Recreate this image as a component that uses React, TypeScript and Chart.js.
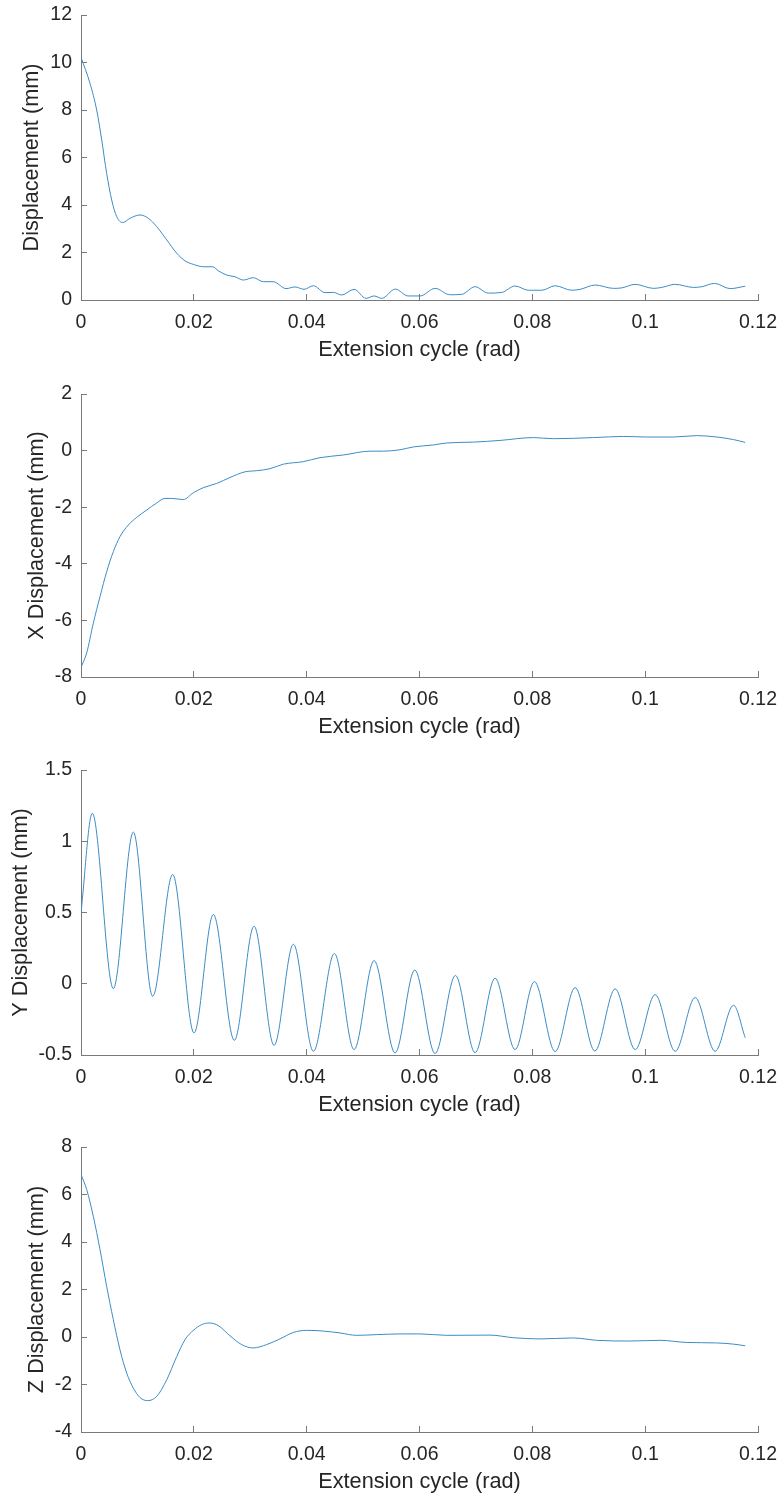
import React, { useEffect, useRef } from "react";
import { Chart, registerables } from "chart.js";

Chart.register(...registerables);

// ---------- data ----------
const xTicks = [0, 0.02, 0.04, 0.06, 0.08, 0.1, 0.12];
const xTickLabels = ["0", "0.02", "0.04", "0.06", "0.08", "0.1", "0.12"];
const xAxisLabel = "Extension cycle (rad)";

// Displacement magnitude
const magX = [0, 0.0016, 0.00278, 0.00367, 0.00455, 0.00544, 0.00633, 0.00739, 0.00869, 0.01046, 0.01194, 0.01342, 0.0152, 0.01697, 0.01844, 0.01991, 0.02168, 0.02334, 0.02434, 0.02582, 0.0273, 0.02877, 0.03054, 0.03232, 0.03409, 0.03634, 0.03794, 0.03953, 0.04119, 0.04326, 0.04474, 0.04622, 0.0484, 0.05053, 0.05195, 0.05331, 0.0557, 0.058, 0.0601, 0.06276, 0.06542, 0.0675, 0.06985, 0.07221, 0.07459, 0.07694, 0.07931, 0.08168, 0.08404, 0.087, 0.08847, 0.09113, 0.09438, 0.09586, 0.09823, 0.10147, 0.10294, 0.10532, 0.10857, 0.11005, 0.11228, 0.11506, 0.11773];
const magY = [10.22, 9.12, 8.0, 6.74, 5.33, 4.21, 3.51, 3.26, 3.44, 3.58, 3.44, 3.09, 2.53, 1.97, 1.65, 1.5, 1.4, 1.4, 1.23, 1.05, 0.98, 0.84, 0.94, 0.77, 0.77, 0.48, 0.55, 0.45, 0.6, 0.31, 0.32, 0.21, 0.45, 0.07, 0.17, 0.07, 0.46, 0.17, 0.17, 0.49, 0.22, 0.24, 0.56, 0.29, 0.32, 0.59, 0.41, 0.41, 0.6, 0.41, 0.45, 0.63, 0.49, 0.51, 0.66, 0.49, 0.53, 0.66, 0.53, 0.56, 0.7, 0.48, 0.58];
const magTicks = [0, 2, 4, 6, 8, 10, 12];
const magTickLabels = ["0", "2", "4", "6", "8", "10", "12"];

// X displacement
const xdX = [0, 0.00101, 0.00218, 0.00337, 0.00455, 0.00573, 0.00691, 0.00839, 0.00987, 0.01165, 0.01342, 0.01489, 0.01607, 0.01814, 0.01991, 0.02168, 0.02405, 0.02641, 0.02907, 0.03114, 0.03351, 0.03586, 0.03941, 0.04237, 0.0465, 0.05124, 0.0536, 0.05655, 0.05892, 0.06247, 0.06483, 0.06956, 0.07428, 0.08019, 0.08373, 0.09082, 0.09613, 0.1003, 0.105, 0.10915, 0.1127, 0.11566, 0.11773];
const xdY = [-7.66, -7.15, -6.1, -5.16, -4.28, -3.57, -3.04, -2.63, -2.36, -2.1, -1.85, -1.69, -1.69, -1.73, -1.49, -1.31, -1.16, -0.95, -0.75, -0.71, -0.64, -0.48, -0.39, -0.25, -0.155, -0.02, -0.02, 0.03, 0.13, 0.2, 0.27, 0.3, 0.36, 0.46, 0.42, 0.46, 0.5, 0.48, 0.48, 0.53, 0.48, 0.39, 0.29];
const xdTicks = [-8, -6, -4, -2, 0, 2];
const xdTickLabels = ["-8", "-6", "-4", "-2", "0", "2"];

// Y displacement
const ydX = [0, 0.002, 0.00573, 0.00928, 0.0127, 0.01625, 0.02003, 0.02346, 0.02718, 0.03067, 0.03422, 0.03765, 0.04119, 0.04492, 0.0484, 0.05195, 0.05567, 0.05916, 0.06276, 0.06637, 0.06985, 0.0734, 0.07694, 0.08037, 0.08404, 0.08759, 0.09108, 0.09468, 0.09823, 0.10177, 0.10532, 0.10886, 0.1124, 0.11566, 0.11773];
const ydY = [0.5, 1.196, -0.034, 1.064, -0.088, 0.767, -0.345, 0.486, -0.397, 0.404, -0.432, 0.277, -0.474, 0.212, -0.462, 0.163, -0.486, 0.097, -0.49, 0.058, -0.484, 0.039, -0.462, 0.015, -0.476, -0.027, -0.472, -0.036, -0.462, -0.076, -0.474, -0.097, -0.474, -0.151, -0.378];
const ydTicks = [-0.5, 0, 0.5, 1, 1.5];
const ydTickLabels = ["-0.5", "0", "0.5", "1", "1.5"];

// Z displacement
const zdX = [0, 0.00101, 0.00218, 0.00337, 0.00455, 0.00573, 0.00691, 0.0081, 0.00928, 0.01046, 0.01182, 0.01342, 0.0152, 0.01697, 0.01844, 0.01991, 0.02139, 0.02275, 0.02434, 0.02641, 0.02848, 0.03054, 0.0329, 0.03527, 0.03763, 0.04, 0.04296, 0.04591, 0.04887, 0.05242, 0.05655, 0.0601, 0.06483, 0.0725, 0.07664, 0.08137, 0.08727, 0.09141, 0.09732, 0.10264, 0.10737, 0.11265, 0.11566, 0.11773];
const zdY = [6.84, 6.21, 5.08, 3.68, 2.13, 0.73, -0.54, -1.52, -2.15, -2.55, -2.68, -2.5, -1.8, -0.82, -0.11, 0.28, 0.52, 0.59, 0.48, 0.05, -0.32, -0.46, -0.32, -0.08, 0.19, 0.28, 0.25, 0.17, 0.07, 0.1, 0.13, 0.13, 0.07, 0.08, -0.03, -0.08, -0.04, -0.14, -0.17, -0.14, -0.23, -0.25, -0.3, -0.37];
const zdTicks = [-4, -2, 0, 2, 4, 6, 8];
const zdTickLabels = ["-4", "-2", "0", "2", "4", "6", "8"];

// ---------- styling / layout ----------
const FONT = "'Liberation Sans', Arial, Helvetica, sans-serif";
const TEXT = "#262626";
const AXIS = "#7a7a7a";
const LINE = "#3b8cc6";
const TICK_SIZE = 19.5;
const LABEL_SIZE = 21.7;
const CANVAS_W = 783;
const CANVAS_H = 364;
const PLOT_LEFT = 81;
const PLOT_RIGHT = 758;
const PAD_TOP = 15;

type Panel = {
  top: number;
  plotH: number;
  xs: number[];
  ys: number[];
  yMin: number;
  yMax: number;
  yTicks: number[];
  yTickLabels: string[];
  yLabel: string;
  yTitleX: number;
};

const panels: Panel[] = [
  { top: 0, plotH: 285, xs: magX, ys: magY, yMin: 0, yMax: 12, yTicks: magTicks, yTickLabels: magTickLabels, yLabel: "Displacement (mm)", yTitleX: 34.5 },
  { top: 379, plotH: 283, xs: xdX, ys: xdY, yMin: -8, yMax: 2, yTicks: xdTicks, yTickLabels: xdTickLabels, yLabel: "X Displacement (mm)", yTitleX: 39.3 },
  { top: 755, plotH: 285, xs: ydX, ys: ydY, yMin: -0.5, yMax: 1.5, yTicks: ydTicks, yTickLabels: ydTickLabels, yLabel: "Y Displacement (mm)", yTitleX: 22.7 },
  { top: 1132, plotH: 285, xs: zdX, ys: zdY, yMin: -4, yMax: 8, yTicks: zdTicks, yTickLabels: zdTickLabels, yLabel: "Z Displacement (mm)", yTitleX: 39.3 },
];

function PanelChart({ p }: { p: Panel }) {
  const ref = useRef<HTMLCanvasElement | null>(null);
  useEffect(() => {
    if (!ref.current) return;
    const labelLH = LABEL_SIZE * 1.2;
    const xAxisH = CANVAS_H - PAD_TOP - p.plotH;
    const xTitlePadBottom = CANVAS_H - (PAD_TOP + p.plotH + 50) - labelLH / 2;
    const yTitlePadTop = p.yTitleX - 2 - labelLH / 2;
    const chart = new Chart(ref.current, {
      type: "line",
      data: {
        datasets: [
          {
            data: p.xs.map((x, i) => ({ x, y: p.ys[i] })),
            borderColor: LINE,
            borderWidth: 1,
            pointRadius: 0,
            fill: false,
            cubicInterpolationMode: "monotone",
          },
        ],
      },
      options: {
        animation: false,
        responsive: false,
        maintainAspectRatio: false,
        events: [],
        layout: { padding: { top: PAD_TOP, right: CANVAS_W - PLOT_RIGHT, bottom: 0, left: 0 } },
        plugins: { legend: { display: false }, tooltip: { enabled: false } },
        scales: {
          x: {
            type: "linear",
            position: "bottom",
            min: 0,
            max: 0.12,
            afterBuildTicks: (s: any) => {
              s.ticks = xTicks.map((v) => ({ value: v }));
            },
            afterFit: (s: any) => {
              s.height = xAxisH;
              s.paddingLeft = 0;
              s.paddingRight = 0;
              s.paddingTop = 0;
              s.paddingBottom = 0;
            },
            ticks: {
              autoSkip: false,
              maxRotation: 0,
              padding: 16.6,
              color: TEXT,
              font: { family: FONT, size: TICK_SIZE },
              callback: (_v: any, i: number) => xTickLabels[i],
            },
            grid: { drawOnChartArea: false, drawTicks: true, tickLength: -6, color: AXIS, lineWidth: 1 },
            border: { display: true, color: AXIS, width: 1 },
            title: {
              display: true,
              text: xAxisLabel,
              color: TEXT,
              font: { family: FONT, size: LABEL_SIZE },
              padding: { top: 0, bottom: xTitlePadBottom },
            },
          },
          y: {
            type: "linear",
            position: "left",
            min: p.yMin,
            max: p.yMax,
            afterBuildTicks: (s: any) => {
              s.ticks = p.yTicks.map((v) => ({ value: v }));
            },
            afterFit: (s: any) => {
              s.width = PLOT_LEFT;
              s.paddingLeft = 0;
              s.paddingRight = 0;
              s.paddingTop = 0;
              s.paddingBottom = 0;
            },
            ticks: {
              autoSkip: false,
              padding: 15,
              color: TEXT,
              font: { family: FONT, size: TICK_SIZE },
              callback: (_v: any, i: number) => p.yTickLabels[i],
            },
            grid: { drawOnChartArea: false, drawTicks: true, tickLength: -6, color: AXIS, lineWidth: 1 },
            border: { display: true, color: AXIS, width: 1 },
            title: {
              display: true,
              text: p.yLabel,
              color: TEXT,
              font: { family: FONT, size: LABEL_SIZE },
              padding: { top: yTitlePadTop, bottom: 0 },
            },
          },
        },
      },
    } as any);
    return () => chart.destroy();
  }, [p]);
  return (
    <canvas
      ref={ref}
      width={CANVAS_W}
      height={CANVAS_H}
      style={{ position: "absolute", left: 0, top: p.top, width: CANVAS_W, height: CANVAS_H, display: "block" }}
    />
  );
}

export default function App() {
  return (
    <div
      style={{
        position: "absolute",
        left: 0,
        top: 0,
        width: CANVAS_W,
        height: 1496,
        overflow: "hidden",
        background: "#ffffff",
      }}
    >
      {panels.map((p, i) => (
        <PanelChart key={i} p={p} />
      ))}
    </div>
  );
}
